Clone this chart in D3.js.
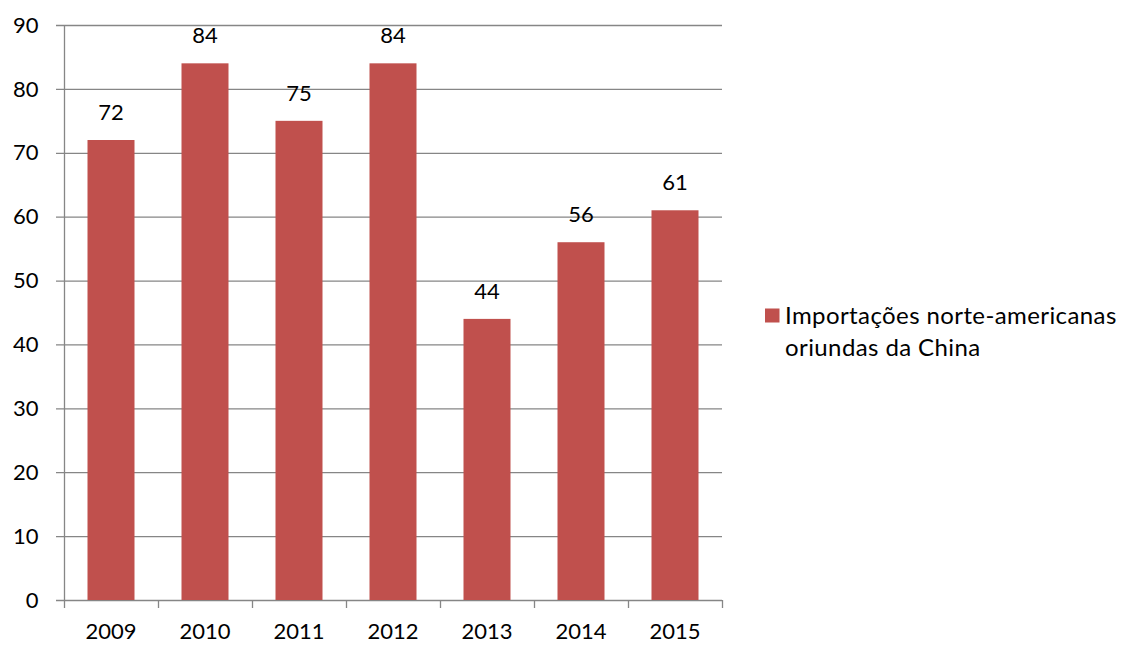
<!DOCTYPE html>
<html>
<head>
<meta charset="utf-8">
<script src="https://cdn.jsdelivr.net/npm/d3@7"></script>
<style>
  html, body { margin: 0; padding: 0; background: #fff; }
  svg text { font-family: Lato, "Open Sans", sans-serif; fill: #000; }
</style>
</head>
<body>
<svg id="chart" width="1129" height="645"></svg>
<script>
const years = ["2009", "2010", "2011", "2012", "2013", "2014", "2015"];
const imports = [72, 84, 75, 84, 44, 56, 61];
const yTicks = [0, 10, 20, 30, 40, 50, 60, 70, 80, 90];
const seriesName = ["Importações norte-americanas", "oriundas da China"];

const svg = d3.select("#chart");
const plotLeft = 64, plotRight = 722, plotTop = 25, plotBottom = 600;
const barColor = "#C0504D";
const lineColor = "#868686";
const fontSize = 22;

const x = d3.scaleBand().domain(years).range([plotLeft, plotRight]).paddingInner(0.5).paddingOuter(0.25);
const y = d3.scaleLinear().domain([0, 90]).range([plotBottom, plotTop]);

// horizontal gridlines with outward ticks
svg.append("g").selectAll("line").data(yTicks).join("line")
  .attr("x1", plotLeft - 8).attr("x2", plotRight)
  .attr("y1", d => y(d) + 0.5).attr("y2", d => y(d) + 0.5)
  .attr("stroke", lineColor).attr("stroke-width", 1.3);

// y tick labels
svg.append("g").selectAll("text").data(yTicks).join("text")
  .attr("x", 38.5).attr("y", d => y(d))
  .attr("dy", "0.35em").attr("text-anchor", "end")
  .attr("font-size", fontSize).text(d => d);

// vertical axis line
svg.append("line")
  .attr("x1", plotLeft + 0.5).attr("x2", plotLeft + 0.5)
  .attr("y1", plotTop).attr("y2", plotBottom)
  .attr("stroke", lineColor).attr("stroke-width", 1.3);

// category boundary ticks below the baseline
const step = x.step();
const boundaries = d3.range(years.length + 1).map(i => plotLeft + i * step);
svg.append("g").selectAll("line").data(boundaries).join("line")
  .attr("x1", d => d + 0.5).attr("x2", d => d + 0.5)
  .attr("y1", plotBottom).attr("y2", plotBottom + 8)
  .attr("stroke", lineColor).attr("stroke-width", 1.3);

// bars
svg.append("g").selectAll("rect").data(imports).join("rect")
  .attr("x", (d, i) => x(years[i]))
  .attr("width", x.bandwidth())
  .attr("y", d => y(d))
  .attr("height", d => y(0) - y(d))
  .attr("fill", barColor);

// value labels
svg.append("g").selectAll("text").data(imports).join("text")
  .attr("x", (d, i) => x(years[i]) + x.bandwidth() / 2)
  .attr("y", d => y(d) - 20)
  .attr("text-anchor", "middle")
  .attr("font-size", fontSize).text(d => d);

// year labels
svg.append("g").selectAll("text").data(years).join("text")
  .attr("x", d => x(d) + x.bandwidth() / 2)
  .attr("y", 639)
  .attr("text-anchor", "middle")
  .attr("font-size", fontSize).text(d => d);

// legend
const lg = svg.append("g");
lg.append("rect").attr("x", 765).attr("y", 308.5).attr("width", 14.5).attr("height", 14).attr("fill", barColor);
lg.selectAll("text").data(seriesName).join("text")
  .attr("x", 785).attr("y", (d, i) => 323.5 + i * 32)
  .attr("font-size", 24).attr("letter-spacing", 0.4).text(d => d);
</script>
</body>
</html>
